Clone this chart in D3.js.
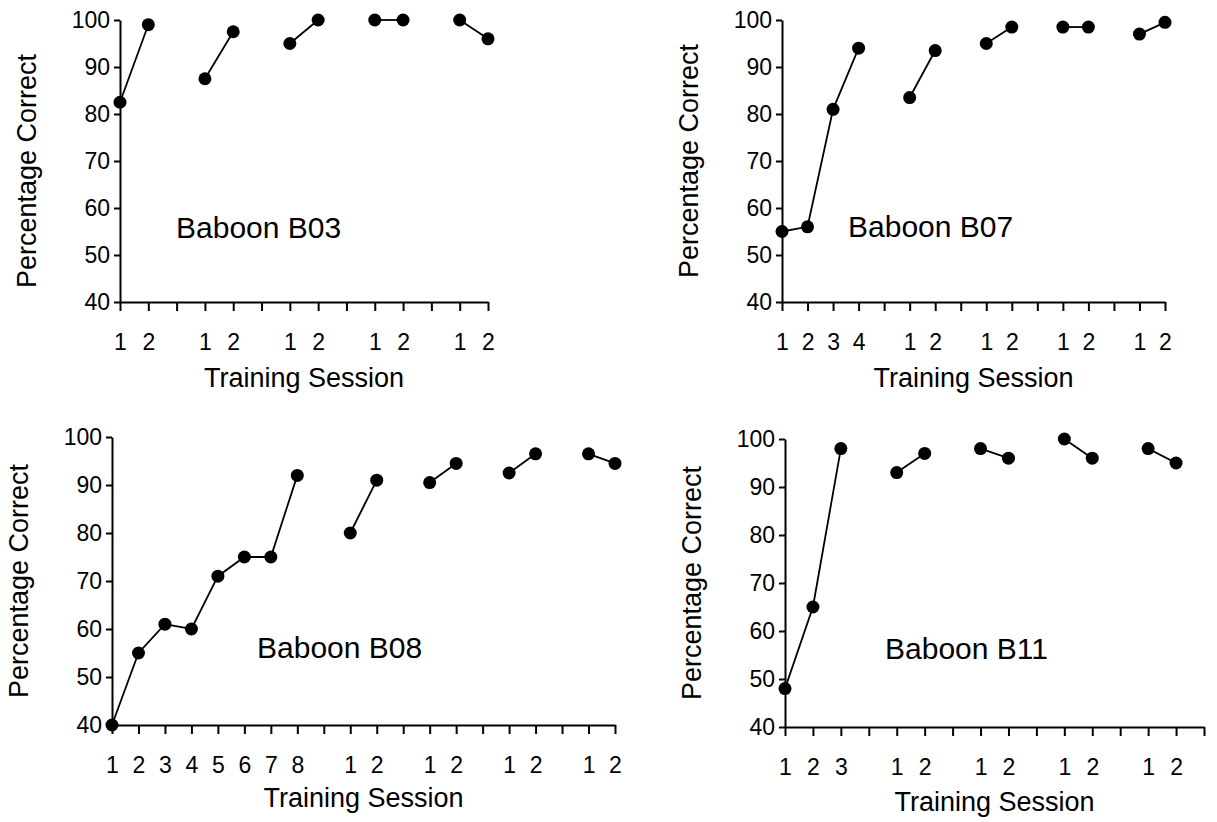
<!DOCTYPE html>
<html>
  <head>
    <!-- load the d3 javascript library -->
    <script src="https://d3js.org/d3.v7.min.js"></script>
    <style>
      body { margin: 0; background: #fff; }
      text { font-family: "Liberation Sans", Arial, Helvetica, sans-serif; fill: #000; }
    </style>
  </head>
  <body>
    <script>

    // tick labels on the x axis of each panel ("" = tick without label)
    var ticksB03 = ["1","2","","1","2","","1","2","","1","2","","1","2"];
    var ticksB07 = ["1","2","3","4","","1","2","","1","2","","1","2","","1","2"];
    var ticksB08 = ["1","2","3","4","5","6","7","8","","1","2","","1","2","","1","2","","1","2"];
    var ticksB11 = ["1","2","3","","1","2","","1","2","","1","2","","1","2",""];

    // percentage correct per training phase (each inner list is one phase)
    var valuesB03 = [[82.5, 99], [87.5, 97.5], [95, 100], [100, 100], [100, 96]];
    var valuesB07 = [[55, 56, 81, 94], [83.5, 93.5], [95, 98.5], [98.5, 98.5], [97, 99.5]];
    var valuesB08 = [[40, 55, 61, 60, 71, 75, 75, 92], [80, 91], [90.5, 94.5], [92.5, 96.5], [96.5, 94.5]];
    var valuesB11 = [[48, 65, 98], [93, 97], [98, 96], [100, 96], [98, 95]];

    var yTicks = [40, 50, 60, 70, 80, 90, 100];

    // panel frames (pixel boxes) and where the baboon label sits
    var panels = [
      { name: "Baboon B03", ticks: ticksB03, values: valuesB03, x0: 120, x1: 488, top: 20,  bottom: 302, lx: 56, ly: 53.6, ty: 10, sy: 85 },
      { name: "Baboon B07", ticks: ticksB07, values: valuesB07, x0: 782, x1: 1165, top: 20, bottom: 302, lx: 66, ly: 53.8, ty: 0, sy: 85 },
      { name: "Baboon B08", ticks: ticksB08, values: valuesB08, x0: 112, x1: 615, top: 437, bottom: 725, lx: 145, ly: 54, ty: 0, sy: 82 },
      { name: "Baboon B11", ticks: ticksB11, values: valuesB11, x0: 785, x1: 1204, top: 439, bottom: 727, lx: 100, ly: 54.2, ty: 0, sy: 84 }
    ];

    var svg = d3.select("body")
      .append("svg")
      .attr("width", 1217)
      .attr("height", 822);

    panels.forEach(function(p) {
      var g = svg.append("g");

      var x = d3.scaleLinear()
        .domain([0, p.ticks.length - 1])
        .range([p.x0, p.x1]);
      var y = d3.scaleLinear()
        .domain([40, 100])
        .range([p.bottom, p.top]);

      // x axis
      var xAxis = d3.axisBottom(x)
        .tickValues(d3.range(p.ticks.length))
        .tickFormat(function(d) { return p.ticks[d]; })
        .tickSize(9)
        .tickSizeOuter(0)
        .tickPadding(23);
      var gx = g.append("g")
        .attr("transform", "translate(0," + p.bottom + ")")
        .call(xAxis);

      // y axis
      var yAxis = d3.axisLeft(y)
        .tickValues(yTicks)
        .tickSize(6)
        .tickSizeOuter(0)
        .tickPadding(4);
      var gy = g.append("g")
        .attr("transform", "translate(" + p.x0 + ",0)")
        .call(yAxis);

      [gx, gy].forEach(function(a) {
        a.selectAll("path, line").attr("stroke", "#000").attr("stroke-width", 2);
        a.selectAll("text").attr("font-size", "23px").attr("fill", "#000");
      });

      // axis titles
      g.append("text")
        .attr("x", (p.x0 + p.x1) / 2)
        .attr("y", p.bottom + p.sy)
        .attr("text-anchor", "middle")
        .attr("font-size", "27px")
        .text("Training Session");

      g.append("text")
        .attr("transform", "translate(" + (p.x0 - 84) + "," + ((p.top + p.bottom) / 2 + p.ty) + ") rotate(-90)")
        .attr("text-anchor", "middle")
        .attr("font-size", "27px")
        .text("Percentage Correct");

      // panel label
      g.append("text")
        .attr("x", p.x0 + p.lx)
        .attr("y", y(p.ly))
        .attr("font-size", "30px")
        .text(p.name);

      // one line + dots per phase; phases are separated by one empty tick
      var start = 0;
      p.values.forEach(function(phase) {
        var pts = phase.map(function(v, i) { return [start + i, v]; });
        start += phase.length + 1;

        var line = d3.line()
          .x(function(d) { return x(d[0]); })
          .y(function(d) { return y(d[1]); });

        g.append("path")
          .datum(pts)
          .attr("d", line)
          .attr("fill", "none")
          .attr("stroke", "#000")
          .attr("stroke-width", 1.8);

        g.selectAll(null)
          .data(pts)
          .enter()
          .append("circle")
          .attr("cx", function(d) { return x(d[0]); })
          .attr("cy", function(d) { return y(d[1]); })
          .attr("r", 6.5)
          .attr("fill", "#000");
      });
    });

    </script>
  </body>
</html>
